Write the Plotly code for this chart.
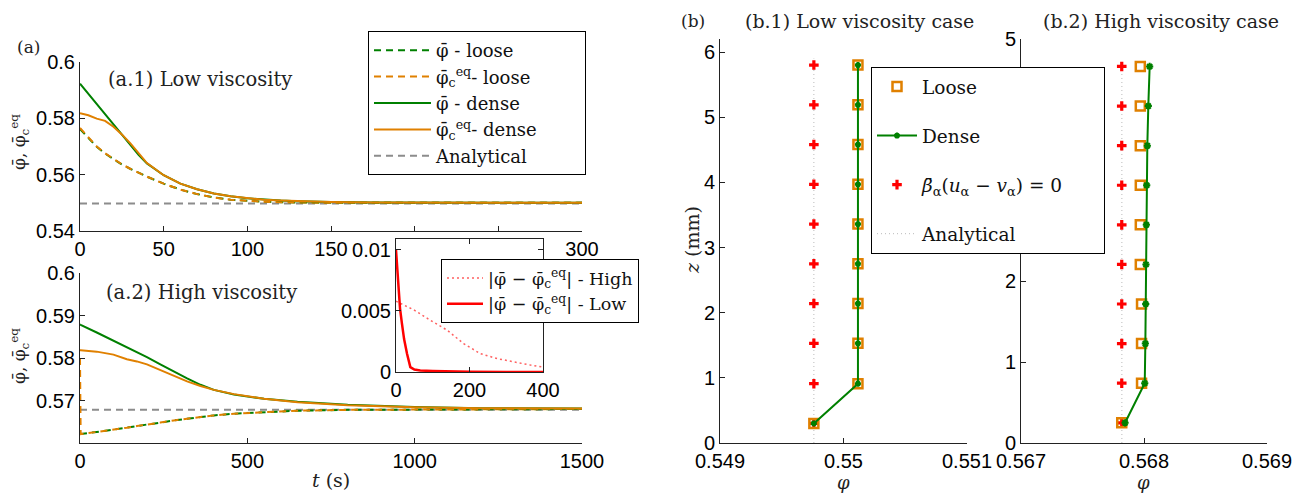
import plotly.graph_objects as go

W, H = 1313, 496          # browser window
OFF = 8                    # page body margin
FW, FH = W - OFF, H - OFF  # figure size that fits in the window

# ---------------- data: (a.1) low viscosity ----------------
t_low = [0, 5, 10, 15, 20, 25, 30, 35, 40, 50, 60, 70, 80, 90, 100, 110, 120, 130, 140, 150, 175, 200, 250, 300]
phi_dense_low = [0.5923, 0.5887, 0.5850, 0.5814, 0.5778, 0.5742, 0.5705, 0.5670, 0.5640, 0.5598, 0.5568, 0.5548,
                 0.5533, 0.5523, 0.5516, 0.5511, 0.5508, 0.5506, 0.5504, 0.5503, 0.5501, 0.5500, 0.5500, 0.5500]
phic_dense_low = [0.5818, 0.5811, 0.5799, 0.5791, 0.5770, 0.5743, 0.5712, 0.5676, 0.5641, 0.5598, 0.5568, 0.5548,
                  0.5533, 0.5523, 0.5516, 0.5511, 0.5508, 0.5506, 0.5504, 0.5503, 0.5501, 0.5500, 0.5500, 0.5500]
phi_loose_low = [0.5762, 0.5730, 0.5699, 0.5675, 0.5654, 0.5636, 0.5621, 0.5606, 0.5593, 0.5568, 0.5547, 0.5531,
                 0.5519, 0.5511, 0.5507, 0.5504, 0.5502, 0.5501, 0.5500, 0.5500, 0.5500, 0.5500, 0.5500, 0.5500]
phic_loose_low = [0.5766, 0.5732, 0.5700, 0.5676, 0.5655, 0.5637, 0.5621, 0.5606, 0.5593, 0.5568, 0.5547, 0.5531,
                  0.5519, 0.5511, 0.5507, 0.5504, 0.5502, 0.5501, 0.5500, 0.5500, 0.5500, 0.5500, 0.5500, 0.5500]
t_analytical_low = [0, 300]
phi_analytical_low = [0.5498, 0.5498]

# ---------------- data: (a.2) high viscosity ----------------
t_high = [0, 2, 50, 100, 140, 170, 200, 240, 280, 320, 360, 400, 460, 550, 650, 800, 1000, 1200, 1500]
phi_dense_high = [0.5879, 0.5878, 0.5860, 0.5841, 0.5826, 0.5814, 0.5802, 0.5785, 0.5768, 0.5752, 0.5737, 0.5725,
                  0.5714, 0.5704, 0.5697, 0.5690, 0.5685, 0.5682, 0.5681]
phic_dense_high = [0.5818, 0.5818, 0.5815, 0.5808, 0.5797, 0.5792, 0.5785, 0.5772, 0.5758, 0.5745, 0.5734, 0.5725,
                   0.5715, 0.5704, 0.5696, 0.5689, 0.5684, 0.5682, 0.5681]
phi_loose_high = [0.5621, 0.5621, 0.5626, 0.5631, 0.5636, 0.5640, 0.5643, 0.5648, 0.5653, 0.5657, 0.5662, 0.5665,
                  0.5669, 0.5673, 0.5676, 0.5678, 0.5679, 0.5680, 0.5680]
phic_loose_high = [0.5800, 0.5621, 0.5626, 0.5631, 0.5636, 0.5640, 0.5643, 0.5648, 0.5653, 0.5657, 0.5662, 0.5665,
                   0.5669, 0.5673, 0.5676, 0.5678, 0.5679, 0.5680, 0.5680]
t_analytical_high = [0, 1500]
phi_analytical_high = [0.5678, 0.5678]

# ---------------- data: inset |phi - phi_c^eq| ----------------
t_inset_low = [0, 3, 7, 11, 16, 22, 30, 39, 50, 66, 100, 150, 200, 300, 400]
diff_low = [0.0100, 0.0085, 0.0067, 0.0052, 0.0040, 0.0027, 0.0015, 0.0004, 0.0002, 0.00012, 0.00008, 0.00004,
            0.00002, 0.00001, 0.0]
t_inset_high = [0, 48, 93, 139, 184, 229, 275, 320, 360, 400]
diff_high = [0.0058, 0.0051, 0.00425, 0.00343, 0.00233, 0.00151, 0.0011, 0.00082, 0.0006, 0.0004]

# ---------------- data: (b.1) low viscosity profiles ----------------
z_low = [0.30, 0.91, 1.53, 2.14, 2.75, 3.36, 3.97, 4.58, 5.19, 5.80]
phi_b_loose_low = [0.54976, 0.550117, 0.550117, 0.550117, 0.550117, 0.550117, 0.550117, 0.550117, 0.550117, 0.550117]
phi_b_dense_low = [0.54976, 0.550117, 0.550117, 0.550117, 0.550117, 0.550117, 0.550117, 0.550117, 0.550117, 0.550117]
phi_b_beta_low = [0.54976, 0.54976, 0.54976, 0.54976, 0.54976, 0.54976, 0.54976, 0.54976, 0.54976, 0.54976]
z_analytical_low = [0.0, 5.9]
phi_b_analytical_low = [0.54976, 0.54976]

# ---------------- data: (b.2) high viscosity profiles ----------------
z_high = [0.25, 0.74, 1.23, 1.72, 2.21, 2.70, 3.19, 3.68, 4.17, 4.66]
phi_b_loose_high = [0.567819, 0.56798, 0.56798, 0.56798, 0.56797, 0.56797, 0.56797, 0.56797, 0.56797, 0.56797]
phi_b_dense_high = [0.567846, 0.568006, 0.568011, 0.568014, 0.568016, 0.568019, 0.568022, 0.568027, 0.568035, 0.568046]
phi_b_beta_high = [0.567819, 0.567819, 0.567819, 0.567819, 0.567819, 0.567819, 0.567819, 0.567819, 0.567819, 0.567819]
z_analytical_high = [0.0, 4.75]
phi_b_analytical_high = [0.56782, 0.56782]

# tick labels
ticks_t_low = [0, 50, 100, 150, 300]
ticks_t_low_hidden = [200, 250]          # covered by the inset in the original
ticks_phi_low = [0.54, 0.56, 0.58, 0.6]
ticks_t_high = [0, 500, 1000, 1500]
ticks_phi_high = [0.57, 0.58, 0.59, 0.6]
ticks_t_inset = [0, 200, 400]
ticks_diff_inset = [0, 0.005, 0.01]
ticklabels_diff_inset = ["0", "0.005", "0.01"]
ticks_phi_b1 = [0.549, 0.55, 0.551]
ticklabels_phi_b1 = ["0.549", "0.55", "0.551"]
ticks_phi_b2 = [0.567, 0.568, 0.569]
ticklabels_phi_b2 = ["0.567", "0.568", "0.569"]
ticks_z_b1 = [0, 1, 2, 3, 4, 5, 6]
ticks_z_b2 = [0, 1, 2, 5]                # 3 and 4 lie behind the legend

# ---------------- styles ----------------
GREEN = "#008000"
ORANGE = "#E08000"
GRAY = "#8C8C8C"
RED = "#FF0000"
SERIF = "DejaVu Serif"
SANS = "Liberation Sans"
DASH = "7px,5px"
NB = "\u00a0"

PHI = "φ\u0304"
PHIC = "φ\u0304<sub>c</sub><sup>eq</sup>"


def px_x(a, b):
    return [(a - OFF) / FW, (b - OFF) / FW]


def px_y(top, bottom):
    return [1 - (bottom - OFF) / FH, 1 - (top - OFF) / FH]


def fx(x):
    return (x - OFF) / FW


def fy(y):
    return 1 - (y - OFF) / FH


fig = go.Figure()

# ---- a.1 ----
fig.add_trace(go.Scatter(x=t_analytical_low, y=phi_analytical_low, mode="lines", name="Analytical" + NB * 9,
                         line=dict(color=GRAY, width=2, dash=DASH), xaxis="x", yaxis="y",
                         legend="legend", legendrank=5))
fig.add_trace(go.Scatter(x=t_low, y=phi_loose_low, mode="lines", name=PHI + " - loose",
                         line=dict(color=GREEN, width=2, dash=DASH), xaxis="x", yaxis="y",
                         legend="legend", legendrank=1))
fig.add_trace(go.Scatter(x=t_low, y=phic_loose_low, mode="lines", name=PHIC + "- loose",
                         line=dict(color=ORANGE, width=2, dash=DASH), xaxis="x", yaxis="y",
                         legend="legend", legendrank=2))
fig.add_trace(go.Scatter(x=t_low, y=phi_dense_low, mode="lines", name=PHI + " - dense",
                         line=dict(color=GREEN, width=2), xaxis="x", yaxis="y",
                         legend="legend", legendrank=3))
fig.add_trace(go.Scatter(x=t_low, y=phic_dense_low, mode="lines", name=PHIC + "- dense",
                         line=dict(color=ORANGE, width=2), xaxis="x", yaxis="y",
                         legend="legend", legendrank=4))

# ---- a.2 ----
fig.add_trace(go.Scatter(x=t_analytical_high, y=phi_analytical_high, mode="lines", showlegend=False,
                         line=dict(color=GRAY, width=2, dash=DASH), xaxis="x2", yaxis="y2"))
fig.add_trace(go.Scatter(x=t_high, y=phi_loose_high, mode="lines", showlegend=False,
                         line=dict(color=GREEN, width=2, dash=DASH), xaxis="x2", yaxis="y2"))
fig.add_trace(go.Scatter(x=t_high, y=phic_loose_high, mode="lines", showlegend=False,
                         line=dict(color=ORANGE, width=2, dash=DASH), xaxis="x2", yaxis="y2"))
fig.add_trace(go.Scatter(x=t_high, y=phi_dense_high, mode="lines", showlegend=False,
                         line=dict(color=GREEN, width=2), xaxis="x2", yaxis="y2"))
fig.add_trace(go.Scatter(x=t_high, y=phic_dense_high, mode="lines", showlegend=False,
                         line=dict(color=ORANGE, width=2), xaxis="x2", yaxis="y2"))

# ---- inset ----
fig.add_trace(go.Scatter(x=t_inset_high, y=diff_high, mode="lines",
                         name="|" + PHI + " − " + PHIC + "| - High",
                         line=dict(color="#FF6060", width=1.5, dash="2px,3px"), xaxis="x3", yaxis="y3",
                         legend="legend2"))
fig.add_trace(go.Scatter(x=t_inset_low, y=diff_low, mode="lines",
                         name="|" + PHI + " − " + PHIC + "| - Low",
                         line=dict(color=RED, width=2.5), xaxis="x3", yaxis="y3",
                         legend="legend2"))

# ---- b.1 ----
fig.add_trace(go.Scatter(x=phi_b_analytical_low, y=z_analytical_low, mode="lines",
                         name="Analytical" + NB * 14,
                         line=dict(color="#BBBBBB", width=1, dash="1px,3px"), xaxis="x4", yaxis="y4",
                         legend="legend3", legendrank=4, legendgroup="an"))
fig.add_trace(go.Scatter(x=phi_b_beta_low, y=z_low, mode="markers",
                         name="<i>β\u0304</i><sub>α</sub>(<i>u</i><sub>α</sub> − <i>v</i><sub>α</sub>) = 0",
                         marker=dict(symbol="cross", color=RED, size=8, line=dict(width=0)),
                         xaxis="x4", yaxis="y4", legend="legend3", legendrank=3, legendgroup="beta"))
fig.add_trace(go.Scatter(x=phi_b_loose_low, y=z_low, mode="markers", name="Loose",
                         marker=dict(symbol="square-open", color=ORANGE, size=9, line=dict(width=2.5)),
                         xaxis="x4", yaxis="y4", legend="legend3", legendrank=1, legendgroup="loose"))
fig.add_trace(go.Scatter(x=phi_b_dense_low, y=z_low, mode="lines+markers", name="Dense",
                         line=dict(color=GREEN, width=2),
                         marker=dict(symbol="asterisk-open", color=GREEN, size=5, line=dict(width=2, color=GREEN)),
                         xaxis="x4", yaxis="y4", legend="legend3", legendrank=2, legendgroup="dense"))

# ---- b.2 ----
fig.add_trace(go.Scatter(x=phi_b_analytical_high, y=z_analytical_high, mode="lines", showlegend=False,
                         line=dict(color="#BBBBBB", width=1, dash="1px,3px"), xaxis="x5", yaxis="y5"))
fig.add_trace(go.Scatter(x=phi_b_beta_high, y=z_high, mode="markers", showlegend=False,
                         marker=dict(symbol="cross", color=RED, size=8, line=dict(width=0)),
                         xaxis="x5", yaxis="y5"))
fig.add_trace(go.Scatter(x=phi_b_loose_high, y=z_high, mode="markers", showlegend=False,
                         marker=dict(symbol="square-open", color=ORANGE, size=9, line=dict(width=2.5)),
                         xaxis="x5", yaxis="y5"))
fig.add_trace(go.Scatter(x=phi_b_dense_high, y=z_high, mode="lines+markers", showlegend=False,
                         line=dict(color=GREEN, width=2),
                         marker=dict(symbol="asterisk-open", color=GREEN, size=6, line=dict(width=2, color=GREEN)),
                         xaxis="x5", yaxis="y5"))

tickfont = dict(family=SANS, size=20, color="black")
common = dict(showline=True, linecolor="#222", linewidth=1, ticks="inside", ticklen=5, tickcolor="#222",
              showgrid=False, zeroline=False, tickfont=tickfont, fixedrange=True, automargin=False)
legfont_a = dict(family=SERIF, size=18, color="#111")
legfont = dict(family=SERIF, size=18.5, color="#111")
legfont2 = dict(family=SERIF, size=17.5, color="#111")

layout = dict(
    width=FW, height=FH, margin=dict(l=0, r=0, t=0, b=0, autoexpand=False),
    paper_bgcolor="white", plot_bgcolor="rgba(0,0,0,0)",
    font=dict(family=SERIF, color="black"),
    xaxis=dict(domain=px_x(80, 582), range=[0, 300], anchor="y", tickvals=ticks_t_low,
               minor=dict(tickvals=ticks_t_low_hidden, ticks="inside", ticklen=5, tickcolor="#222"), **common),
    yaxis=dict(domain=px_y(62, 231), range=[0.54, 0.6], anchor="x", tickvals=ticks_phi_low, **common),
    xaxis2=dict(domain=px_x(80, 582), range=[0, 1500], anchor="y2", tickvals=ticks_t_high, **common),
    yaxis2=dict(domain=px_y(273, 443), range=[0.56, 0.6], anchor="x2", tickvals=ticks_phi_high, **common),
    xaxis3=dict(domain=px_x(396, 543), range=[0, 400], anchor="y3", tickvals=ticks_t_inset, mirror="ticks", **common),
    yaxis3=dict(domain=px_y(239, 372), range=[0, 0.0109], anchor="x3", tickvals=ticks_diff_inset,
                ticktext=ticklabels_diff_inset, mirror="ticks", **common),
    xaxis4=dict(domain=px_x(720, 967), range=[0.549, 0.551], anchor="y4",
                tickvals=ticks_phi_b1, ticktext=ticklabels_phi_b1, **common),
    yaxis4=dict(domain=px_y(39, 443), range=[0, 6.2], anchor="x4", tickvals=ticks_z_b1, **common),
    xaxis5=dict(domain=px_x(1021, 1267), range=[0.567, 0.569], anchor="y5",
                tickvals=ticks_phi_b2, ticktext=ticklabels_phi_b2, **common),
    yaxis5=dict(domain=px_y(39, 443), range=[0, 5], anchor="x5", tickvals=ticks_z_b2, **common),
    legend=dict(x=fx(368), y=fy(31), xanchor="left", yanchor="top", bgcolor="white",
                bordercolor="black", borderwidth=1, font=legfont_a, itemwidth=57, tracegroupgap=0),
    legend2=dict(x=fx(441), y=fy(259), xanchor="left", yanchor="top", bgcolor="white",
                 bordercolor="black", borderwidth=1, font=legfont2, itemwidth=36),
    legend3=dict(x=fx(871), y=fy(67), xanchor="left", yanchor="top", bgcolor="white",
                 bordercolor="black", borderwidth=1, font=legfont, itemwidth=40, tracegroupgap=22),
)
fig.update_layout(**layout)


def ann(text, x, y, size=18, angle=0):
    fig.add_annotation(text=text, x=fx(x), y=fy(y), xref="paper", yref="paper", showarrow=False,
                       xanchor="center", yanchor="middle", textangle=angle,
                       font=dict(family=SERIF, size=size, color="#222"))


ann("(a)", 28, 47, 17)
ann("(a.1) Low viscosity", 200, 80, 19.5)
ann("(a.2) High viscosity", 202, 292, 19.5)
ann(PHI + ", " + PHIC, 19, 142, 17, -90)
ann(PHI + ", " + PHIC, 19, 356, 17, -90)
ann("<i>t</i> (s)", 331, 480, 19)
ann("(b)", 693, 21, 17)
ann("(b.1) Low viscosity case", 859, 21, 19)
ann("(b.2) High viscosity case", 1161, 21, 19)
ann("<i>z</i> (mm)", 692, 240, 19, -90)
ann("<i>φ</i>", 843, 482, 18)
ann("<i>φ</i>", 1143, 482, 18)

fig.write_html("out.html")
